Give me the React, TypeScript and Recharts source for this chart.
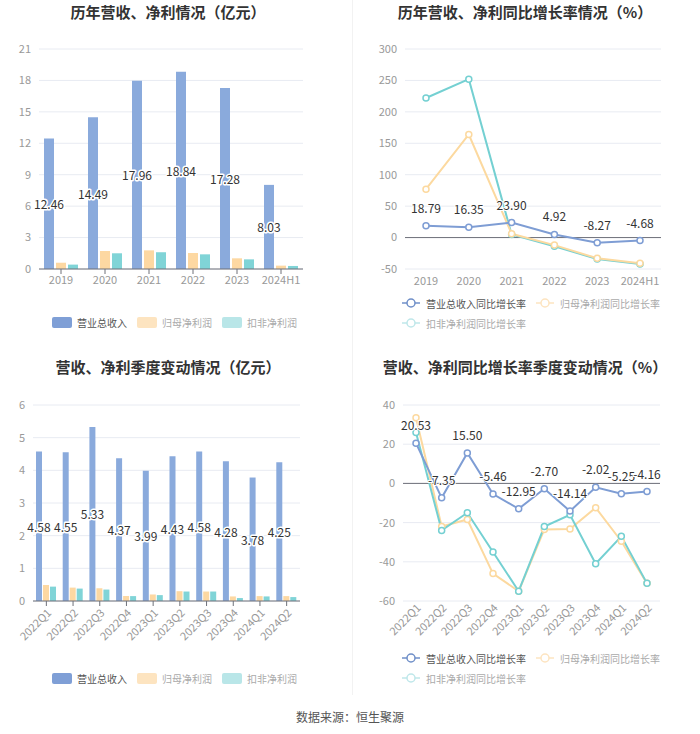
import React from 'react';
import {
  BarChart, Bar, LineChart, Line, XAxis, YAxis, CartesianGrid, LabelList, ReferenceLine,
} from 'recharts';

const years = ['2019', '2020', '2021', '2022', '2023', '2024H1'];
const revenue = [12.46, 14.49, 17.96, 18.84, 17.28, 8.03];
const netProfit = [0.6, 1.72, 1.78, 1.53, 1.02, 0.32];
const deductedProfit = [0.42, 1.5, 1.6, 1.4, 0.92, 0.29];

const revenueGrowth = [18.79, 16.35, 23.9, 4.92, -8.27, -4.68];
const netGrowth = [77, 164, 6, -12, -33, -41];
const deductedGrowth = [222, 252, 5, -14, -34, -42];

const quarters = ['2022Q1', '2022Q2', '2022Q3', '2022Q4', '2023Q1', '2023Q2', '2023Q3', '2023Q4', '2024Q1', '2024Q2'];
const qRevenue = [4.58, 4.55, 5.33, 4.37, 3.99, 4.43, 4.58, 4.28, 3.78, 4.25];
const qNet = [0.49, 0.41, 0.39, 0.15, 0.2, 0.3, 0.29, 0.14, 0.15, 0.15];
const qDeducted = [0.44, 0.38, 0.35, 0.15, 0.18, 0.29, 0.29, 0.09, 0.14, 0.12];

const qRevenueGrowth = [20.53, -7.35, 15.5, -5.46, -12.95, -2.7, -14.14, -2.02, -5.25, -4.16];
const qNetGrowth = [33.5, -22, -18.4, -46, -55, -23.5, -23.3, -12.4, -29.5, -51];
const qDeductedGrowth = [26, -24, -15, -35, -55, -22, -16, -41, -27, -51];

const annualTicks = [0, 3, 6, 9, 12, 15, 18, 21];
const annualGrowthTicks = [-50, 0, 50, 100, 150, 200, 250, 300];
const quarterTicks = [0, 1, 2, 3, 4, 5, 6];
const quarterGrowthTicks = [-60, -40, -20, 0, 20, 40];

const annualData = years.map((y, i) => ({ name: y, rev: revenue[i], net: netProfit[i], ded: deductedProfit[i] }));
const annualGrowthData = years.map((y, i) => ({ name: y, rev: revenueGrowth[i], net: netGrowth[i], ded: deductedGrowth[i] }));
const quarterData = quarters.map((q, i) => ({ name: q, rev: qRevenue[i], net: qNet[i], ded: qDeducted[i] }));
const quarterGrowthData = quarters.map((q, i) => ({ name: q, rev: qRevenueGrowth[i], net: qNetGrowth[i], ded: qDeductedGrowth[i] }));

const BLUE = '#8aaadc';
const YELLOW = '#fdd8a2';
const TEAL = '#80d4d7';
const LBLUE = '#7e9dd4';
const LYELLOW = '#fcd99f';
const LTEAL = '#74d0d2';
const FONT = '"Noto Sans CJK SC", "Noto Sans", sans-serif';
const AXIS = '#6e7079';
const GRID = '#e8ebf2';
const TICK = { fill: '#999', fontSize: 11, fontFamily: FONT };

const BarValueLabel = (props: any) => {
  const { x, y, width, height, value } = props;
  return (
    <text
      x={x + width / 2}
      y={y + height / 2}
      textAnchor="middle"
      dominantBaseline="central"
      fontSize={12}
      fontFamily={FONT}
      fill="#333"
      stroke="#fff"
      strokeWidth={3}
      paintOrder="stroke"
      strokeLinejoin="round"
    >
      {Number(value).toFixed(2)}
    </text>
  );
};

const LineValueLabel = (props: any) => {
  const { x, y, value } = props;
  return (
    <text
      x={x}
      y={y - 13}
      textAnchor="middle"
      fontSize={12}
      fontFamily={FONT}
      fill="#333"
      stroke="#fff"
      strokeWidth={2}
      paintOrder="stroke"
    >
      {Number(value).toFixed(2)}
    </text>
  );
};

const RotTick = (props: any) => {
  const { x, y, payload } = props;
  return (
    <g transform={`translate(${x},${y})`}>
      <text x={0} y={0} dy={8} textAnchor="end" transform="rotate(-45)" fill="#999" fontSize={11} fontFamily={FONT}>
        {payload.value}
      </text>
    </g>
  );
};

const Title = ({ text, cx, top }: { text: string; cx: number; top: number }) => (
  <div
    style={{
      position: 'absolute', left: cx - 175, top, width: 350, textAlign: 'center',
      fontSize: 15, fontWeight: 'bold', color: '#333', fontFamily: FONT, lineHeight: '24px',
    }}
  >
    {text}
  </div>
);

const SwatchItem = ({ color, label, textColor }: { color: string; label: string; textColor: string }) => (
  <div style={{ display: 'flex', alignItems: 'center', marginRight: 10, whiteSpace: 'nowrap' }}>
    <div style={{ width: 20, height: 11, borderRadius: 2, background: color, marginRight: 5 }} />
    <span style={{ fontSize: 10, color: textColor, fontFamily: FONT }}>{label}</span>
  </div>
);

const LineItem = ({ color, label, textColor, width }: { color: string; label: string; textColor: string; width: number }) => (
  <div style={{ display: 'flex', alignItems: 'center', width, height: 20, whiteSpace: 'nowrap' }}>
    <svg width={18} height={12} style={{ marginRight: 6 }}>
      <line x1={0} y1={6} x2={18} y2={6} stroke={color} strokeWidth={1.5} />
      <circle cx={9} cy={6} r={4} fill="#fff" stroke={color} strokeWidth={1.5} />
    </svg>
    <span style={{ fontSize: 10, color: textColor, fontFamily: FONT }}>{label}</span>
  </div>
);

const BarLegend = ({ top }: { top: number }) => (
  <div style={{ position: 'absolute', left: 52, top, display: 'flex' }}>
    <SwatchItem color="#7f9fd6" label="营业总收入" textColor="#555" />
    <SwatchItem color="#fde4c0" label="归母净利润" textColor="#aaa" />
    <SwatchItem color="#b9e6e8" label="扣非净利润" textColor="#aaa" />
  </div>
);

const LineLegend = ({ top }: { top: number }) => (
  <div style={{ position: 'absolute', left: 402, top, width: 290 }}>
    <div style={{ display: 'flex' }}>
      <LineItem color="#6f8fc8" label="营业总收入同比增长率" textColor="#555" width={134} />
      <LineItem color="#fde4c0" label="归母净利润同比增长率" textColor="#aaa" width={140} />
    </div>
    <div style={{ display: 'flex' }}>
      <LineItem color="#bfe7ea" label="扣非净利润同比增长率" textColor="#aaa" width={140} />
    </div>
  </div>
);

export default function App() {
  return (
    <div style={{ position: 'absolute', left: 0, top: 0, width: 700, height: 734, background: '#fff', fontFamily: FONT }}>
      <div style={{ position: 'absolute', left: 352, top: 0, width: 1, height: 695, background: '#f2f2f2' }} />

      <Title text="历年营收、净利情况（亿元）" cx={168} top={0} />
      <Title text="历年营收、净利同比增长率情况（%）" cx={525} top={0} />
      <Title text="营收、净利季度变动情况（亿元）" cx={168} top={355} />
      <Title text="营收、净利同比增长率季度变动情况（%）" cx={525} top={355} />

      <div style={{ position: 'absolute', left: 0, top: 0 }}>
        <BarChart width={350} height={300} data={annualData} margin={{ top: 49, right: 47, left: 0, bottom: 11 }} barSize={10} barGap={2}>
          <CartesianGrid vertical={false} stroke={GRID} />
          <XAxis dataKey="name" tick={TICK} axisLine={{ stroke: AXIS }} tickLine={{ stroke: AXIS }} tickSize={5} height={20} interval={0} />
          <YAxis domain={[0, 21]} ticks={annualTicks} width={39} tick={TICK} axisLine={false} tickLine={false} tickSize={0} tickMargin={8} interval={0} />
          <Bar dataKey="rev" fill={BLUE} isAnimationActive={false}>
            <LabelList dataKey="rev" content={BarValueLabel} />
          </Bar>
          <Bar dataKey="net" fill={YELLOW} isAnimationActive={false} />
          <Bar dataKey="ded" fill={TEAL} isAnimationActive={false} />
        </BarChart>
      </div>

      <div style={{ position: 'absolute', left: 350, top: 0 }}>
        <LineChart width={350} height={300} data={annualGrowthData} margin={{ top: 49, right: 39, left: 0, bottom: 11 }}>
          <CartesianGrid vertical={false} stroke={GRID} />
          <XAxis dataKey="name" tick={TICK} axisLine={false} tickLine={false} tickSize={0} tickMargin={8} height={20} interval={0} padding={{ left: 21, right: 21 }} />
          <YAxis domain={[-50, 300]} ticks={annualGrowthTicks} width={55} tick={TICK} axisLine={false} tickLine={false} tickSize={0} tickMargin={8} interval={0} />
          <ReferenceLine y={0} stroke={AXIS} />
          <Line dataKey="ded" stroke={LTEAL} strokeWidth={2} dot={{ r: 3, fill: '#fff', stroke: LTEAL, strokeWidth: 1.5 }} isAnimationActive={false} />
          <Line dataKey="net" stroke={LYELLOW} strokeWidth={2} dot={{ r: 3, fill: '#fff', stroke: LYELLOW, strokeWidth: 1.5 }} isAnimationActive={false} />
          <Line dataKey="rev" stroke={LBLUE} strokeWidth={2} dot={{ r: 3, fill: '#fff', stroke: LBLUE, strokeWidth: 1.5 }} isAnimationActive={false}>
            <LabelList dataKey="rev" content={LineValueLabel} />
          </Line>
        </LineChart>
      </div>

      <div style={{ position: 'absolute', left: 0, top: 350 }}>
        <BarChart width={350} height={300} data={quarterData} margin={{ top: 55, right: 50, left: 0, bottom: 4 }} barSize={6} barGap={1}>
          <CartesianGrid vertical={false} stroke={GRID} />
          <XAxis dataKey="name" tick={<RotTick />} axisLine={{ stroke: AXIS }} tickLine={{ stroke: AXIS }} tickSize={5} height={45} interval={0} />
          <YAxis domain={[0, 6]} ticks={quarterTicks} width={33} tick={TICK} axisLine={false} tickLine={false} tickSize={0} tickMargin={8} interval={0} />
          <Bar dataKey="rev" fill={BLUE} isAnimationActive={false}>
            <LabelList dataKey="rev" content={BarValueLabel} />
          </Bar>
          <Bar dataKey="net" fill={YELLOW} isAnimationActive={false} />
          <Bar dataKey="ded" fill={TEAL} isAnimationActive={false} />
        </BarChart>
      </div>

      <div style={{ position: 'absolute', left: 350, top: 350 }}>
        <LineChart width={350} height={300} data={quarterGrowthData} margin={{ top: 55, right: 40, left: 0, bottom: 4 }}>
          <CartesianGrid vertical={false} stroke={GRID} />
          <XAxis dataKey="name" tick={<RotTick />} axisLine={false} tickLine={false} tickSize={0} height={45} interval={0} padding={{ left: 13, right: 13 }} />
          <YAxis domain={[-60, 40]} ticks={quarterGrowthTicks} width={53} tick={TICK} axisLine={false} tickLine={false} tickSize={0} tickMargin={8} interval={0} />
          <ReferenceLine y={0} stroke={AXIS} />
          <Line dataKey="net" stroke={LYELLOW} strokeWidth={2} dot={{ r: 3, fill: '#fff', stroke: LYELLOW, strokeWidth: 1.5 }} isAnimationActive={false} />
          <Line dataKey="ded" stroke={LTEAL} strokeWidth={2} dot={{ r: 3, fill: '#fff', stroke: LTEAL, strokeWidth: 1.5 }} isAnimationActive={false} />
          <Line dataKey="rev" stroke={LBLUE} strokeWidth={2} dot={{ r: 3, fill: '#fff', stroke: LBLUE, strokeWidth: 1.5 }} isAnimationActive={false}>
            <LabelList dataKey="rev" content={LineValueLabel} />
          </Line>
        </LineChart>
      </div>

      <BarLegend top={315} />
      <LineLegend top={293} />
      <BarLegend top={671} />
      <LineLegend top={648} />

      <div style={{ position: 'absolute', left: 0, top: 708, width: 700, textAlign: 'center', fontSize: 12, color: '#555', fontFamily: FONT }}>
        数据来源：恒生聚源
      </div>
    </div>
  );
}
